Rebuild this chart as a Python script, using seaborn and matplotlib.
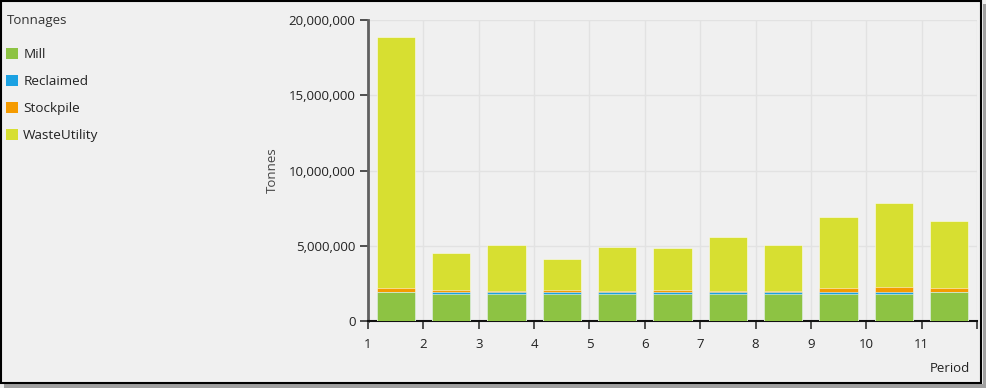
import numpy as np
import pandas as pd
import matplotlib.pyplot as plt
import seaborn as sns
from matplotlib.patches import Patch, Rectangle

# Tonnages per period
periods = ['1', '2', '3', '4', '5', '6', '7', '8', '9', '10', '11']
mill = [1930000, 1780000, 1780000, 1780000, 1780000, 1780000, 1780000, 1780000, 1780000, 1780000, 1930000]
reclaimed = [0, 130000, 130000, 130000, 130000, 130000, 130000, 130000, 130000, 130000, 0]
stockpile = [270000, 130000, 70000, 130000, 70000, 130000, 100000, 100000, 270000, 330000, 270000]
waste = [16650000, 2460000, 3050000, 2060000, 2920000, 2790000, 3540000, 3020000, 4720000, 5580000, 4420000]

series = ['Mill', 'Reclaimed', 'Stockpile', 'WasteUtility']
colors = ['#8dc343', '#1ba1e2', '#f59b00', '#d7df31']

df = pd.DataFrame({'Period': periods, 'Mill': mill, 'Reclaimed': reclaimed,
                   'Stockpile': stockpile, 'WasteUtility': waste})
cum = df[series].cumsum(axis=1)

sns.set_style('white')
plt.rcParams['font.family'] = ['Open Sans', 'DejaVu Sans']
bg = '#f0f0f0'

fig = plt.figure(figsize=(9.87, 3.88), dpi=100, facecolor=bg)
ax = fig.add_axes([368 / 987, 67 / 388, 609 / 987, 301 / 388])
ax.set_facecolor(bg)

# stacked bars: draw cumulative totals from top layer down
for name, col in zip(reversed(series), reversed(colors)):
    sns.barplot(x=df['Period'], y=cum[name], color=col, width=0.69, ax=ax,
                edgecolor=(1, 1, 1, 0.7), linewidth=0.5, saturation=1, zorder=3)

ax.set_xlim(-0.5, 10.5)
ax.set_ylim(0, 20000000)
ax.set_yticks([0, 5000000, 10000000, 15000000, 20000000])
ax.set_yticklabels(['0', '5,000,000', '10,000,000', '15,000,000', '20,000,000'])
ax.set_xticks(np.arange(-0.5, 11, 1))
ax.set_xticklabels(periods + [''])

ax.grid(True, color='#e2e2e2', linewidth=1, zorder=0)
for s in ['top', 'right']:
    ax.spines[s].set_visible(False)
ax.spines['left'].set_color('#606060')
ax.spines['left'].set_linewidth(2)
ax.spines['bottom'].set_color('#111111')
ax.spines['bottom'].set_linewidth(1.5)
ax.tick_params(axis='both', direction='out', length=6, width=1.2, color='#333333',
               labelsize=9.5, labelcolor='#222222', pad=6, bottom=True, left=True)
ax.tick_params(axis='y', pad=3)

ax.set_ylabel('Tonnes', fontsize=9.5, color='#444444', labelpad=7)
ax.set_xlabel('')
fig.text(970 / 987, 1 - 369 / 388, 'Period', fontsize=9.5, color='#222222',
         ha='right', va='center')

handles = [Patch(facecolor=c, edgecolor='none', label=n) for n, c in zip(series, colors)]
leg = fig.legend(handles=handles, title='Tonnages', loc='upper left',
                 bbox_to_anchor=(-3 / 987, 1 - 5 / 388), frameon=False, fontsize=9.7,
                 title_fontsize=9.5, handlelength=0.85, handleheight=0.85,
                 handletextpad=0.4, labelspacing=1.03, borderaxespad=0.3)
leg._legend_box.align = 'left'
leg._legend_box.sep = 15
leg.get_title().set_color('#333333')
for t in leg.get_texts():
    t.set_color('#222222')

# window frame with drop shadow
fig.patches.append(Rectangle((983 / 987, 0), 4 / 987, 384 / 388, transform=fig.transFigure,
                             facecolor='#a0a0a0', edgecolor='none', zorder=-1))
fig.patches.append(Rectangle((4 / 987, 0), 983 / 987, 4 / 388, transform=fig.transFigure,
                             facecolor='#a0a0a0', edgecolor='none', zorder=-1))
fig.patches.append(Rectangle((0.5 / 987, 5 / 388), 981 / 987, 382 / 388, transform=fig.transFigure,
                             facecolor='none', edgecolor='black', linewidth=1.5, zorder=10))

fig.savefig('out.png', dpi=100, facecolor=bg)
